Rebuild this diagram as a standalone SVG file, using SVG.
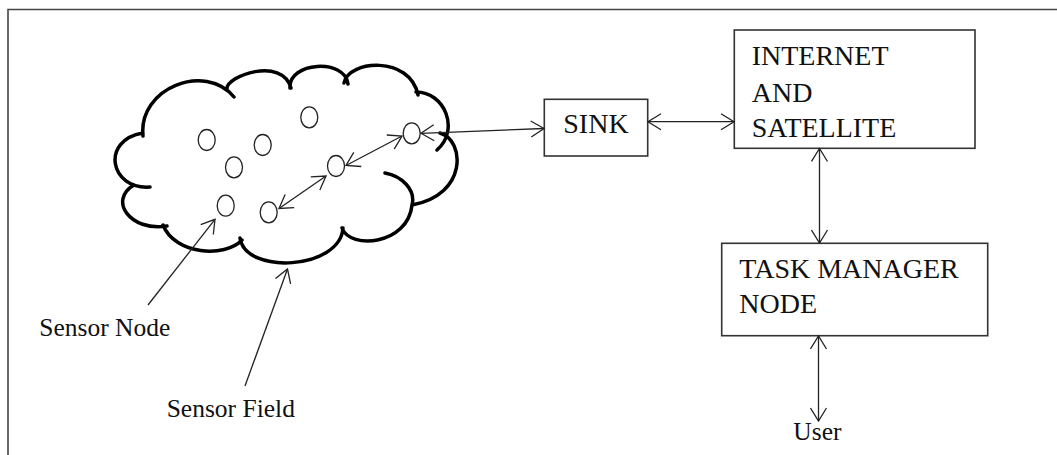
<svg xmlns="http://www.w3.org/2000/svg" width="1057" height="455" viewBox="0 0 1057 455">
<defs>
<marker id="ah" markerUnits="userSpaceOnUse" viewBox="0 0 16 18" refX="14" refY="9" markerWidth="16" markerHeight="18" orient="auto-start-reverse">
<path d="M1,1 L14,9 L1,17" fill="none" stroke="#222" stroke-width="1.3"/>
</marker>
<style>
.t{font-family:"Liberation Serif","Times New Roman",serif;fill:#111}
.box{fill:#fff;stroke:#333;stroke-width:1.6}
.c{stroke:#222;stroke-width:1.3;fill:none;marker-start:url(#ah);marker-end:url(#ah)}
.s{stroke:#222;stroke-width:1.3;fill:none;marker-end:url(#ah)}
.sn{fill:#fff;stroke:#222;stroke-width:1.3}
</style>
</defs>
<rect width="1057" height="455" fill="#fff"/>
<path d="M8,455 L8,9.5 L1057,9.5" fill="none" stroke="#444" stroke-width="1.6"/>

<g id="sensor-field">
<path fill="none" stroke="#000" stroke-width="3.5" stroke-linecap="round" d="
M143,136 C138,88 205,62 234,97
M227,89 C226,76 282,56 291,88
M290,88 C288,62 345,58 348,84
M344,83 C348,60 410,55 418,95
M416,92 C445,92 460,130 437,150
M440,133 C465,140 468,195 412,205
M385,173 C402,176 416,190 412,205
M412,205 C408,245 350,250 342,228
M343,228 C340,270 245,275 240,238
M242,240 C225,258 175,255 163,225
M167,226 C130,232 108,200 134,185
M150,187 C110,190 100,140 143,133"/>
<ellipse class="sn" cx="206.7" cy="140" rx="8.5" ry="10.5"/>
<ellipse class="sn" cx="262.7" cy="145" rx="8.5" ry="10.5"/>
<ellipse class="sn" cx="309.3" cy="117.3" rx="8.5" ry="10.5"/>
<ellipse class="sn" cx="234" cy="167.3" rx="8.5" ry="10.5"/>
<ellipse class="sn" cx="225.7" cy="205.7" rx="8.5" ry="10.5"/>
<ellipse class="sn" cx="268.7" cy="212.3" rx="8.5" ry="10.5"/>
<ellipse class="sn" cx="336" cy="166" rx="8.5" ry="10.5"/>
<ellipse class="sn" cx="411.7" cy="133.3" rx="8.5" ry="10.5"/>
</g>

<g id="sink">
<rect class="box" x="544.3" y="99.3" width="103.4" height="56.7"/>
<text class="t" x="563.3" y="132.7" font-size="28">SINK</text>
</g>

<g id="internet">
<rect class="box" x="734.3" y="30" width="240.7" height="118.3"/>
<text class="t" x="751.7" y="65" font-size="28">INTERNET</text>
<text class="t" x="751.7" y="101.5" font-size="28">AND</text>
<text class="t" x="751.7" y="137.3" font-size="28">SATELLITE</text>
</g>

<g id="task-manager">
<rect class="box" x="721.7" y="243.3" width="266" height="92.4"/>
<text class="t" x="739.3" y="278.3" font-size="28">TASK MANAGER</text>
<text class="t" x="739.3" y="312.7" font-size="28">NODE</text>
</g>

<g id="labels">
<text class="t" x="39.3" y="336" font-size="25.5">Sensor Node</text>
<text class="t" x="166.7" y="417.3" font-size="25.5">Sensor Field</text>
<text class="t" x="793.3" y="440" font-size="25.5">User</text>
</g>

<g id="connectors">
<line class="c" x1="421" y1="133.3" x2="544" y2="128.5"/>
<line class="c" x1="648" y1="121.7" x2="734" y2="121.7"/>
<line class="c" x1="819.5" y1="148.5" x2="819.5" y2="243"/>
<line class="c" x1="818.5" y1="336" x2="818.5" y2="421"/>
<line class="c" x1="279" y1="208.5" x2="326" y2="176"/>
<line class="c" x1="346" y1="165.5" x2="402" y2="136"/>
<line class="s" x1="148" y1="305" x2="215" y2="219.3"/>
<line class="s" x1="245" y1="386" x2="287.5" y2="269"/>
</g>
</svg>
